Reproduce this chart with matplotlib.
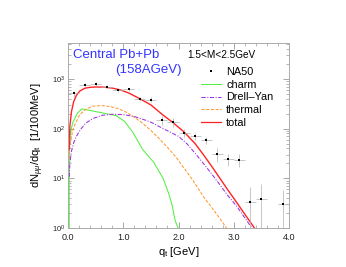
import numpy as np
import matplotlib
matplotlib.use('Agg')
import matplotlib.pyplot as plt
from matplotlib.lines import Line2D
from matplotlib.ticker import MultipleLocator, LogLocator, FixedLocator

plt.rcParams['font.family'] = ['Liberation Sans', 'DejaVu Sans']
plt.rcParams['mathtext.fontset'] = 'custom'
plt.rcParams['mathtext.rm'] = 'Liberation Sans'
plt.rcParams['mathtext.it'] = 'Liberation Sans:italic'

# NA50 data
na50_q = [0.1, 0.3, 0.5, 0.7, 0.9, 1.1, 1.3, 1.5, 1.7, 1.9,
          2.1, 2.3, 2.5, 2.7, 2.9, 3.1, 3.3, 3.5, 3.9]
na50_y = [510, 760, 790, 700, 590, 615, 400, 385, 147, 136,
          82, 70, 58, 31, 24.5, 23.7, 3.35, 3.8, 3.0]
na50_err = [75, 60, 60, 55, 50, 50, 40, 40, 30, 28,
            15, 12, 10, 10, 7, 7, 3.3, 3.8, 2.8]

# model curves
total_q = [0.02, 0.03, 0.06, 0.1, 0.15, 0.21, 0.3, 0.4, 0.5, 0.64, 0.8, 0.95,
           1.1, 1.3, 1.5, 1.7, 1.9, 2.1, 2.3, 2.45, 2.6, 2.75, 2.9, 3.06,
           3.2, 3.36, 3.42]
total_y = [38, 111, 220, 350, 470, 570, 650, 680, 690, 685, 655, 600,
           520, 400, 300, 195, 132, 86, 50, 30, 17.5, 10, 5.7, 3.2,
           1.9, 1.06, 0.85]

thermal_q = [0.02, 0.03, 0.08, 0.12, 0.21, 0.33, 0.45, 0.6, 0.75, 0.9, 1.05,
             1.2, 1.35, 1.5, 1.65, 1.8, 1.95, 2.1, 2.25, 2.45, 2.6, 2.75,
             2.87, 2.92]
thermal_y = [25, 44, 90, 120, 192, 250, 283, 292, 280, 255, 215,
             170, 128, 92, 63, 42, 27, 16, 9.5, 4.3, 2.6, 1.55,
             1.0, 0.85]

dy_q = [0.02, 0.03, 0.06, 0.1, 0.15, 0.22, 0.32, 0.45, 0.62, 0.8, 1.0,
        1.2, 1.35, 1.5, 1.7, 1.85, 2.0, 2.15, 2.3, 2.45, 2.6, 2.75, 2.9,
        3.06, 3.2, 3.33, 3.38]
dy_y = [10.7, 20, 35, 52, 70, 95, 130, 160, 186, 195, 192,
        175, 155, 135, 103, 85, 70, 50, 32, 20, 12.3, 7.4, 4.4,
        2.7, 1.6, 1.0, 0.85]

charm_q = [0.02, 0.02, 0.04, 0.08, 0.17, 0.25, 0.56, 0.87, 1.02, 1.17,
           1.35, 1.55, 1.72, 1.82, 1.88, 1.94, 2.0, 2.02]
charm_y = [0.8, 45, 80, 130, 207, 250, 214, 183, 141, 85,
           38, 21, 10, 5, 3, 1.4, 0.95, 0.85]

fig = plt.figure(figsize=(3.46, 2.67), dpi=100)
ax = fig.add_axes([0.197, 0.146, 0.638, 0.693])

c_total = '#ff2424'
c_thermal = '#ff9933'
c_dy = '#9933dd'
c_charm = '#55ee44'

ax.plot(charm_q, charm_y, color=c_charm, lw=0.75)
ax.plot(thermal_q, thermal_y, color=c_thermal, lw=0.75, ls=(0, (3, 1.5)))
ax.plot(dy_q, dy_y, color=c_dy, lw=0.75, ls=(0, (4, 1.5, 1, 1.5)))
ax.plot(total_q, total_y, color=c_total, lw=1.0)

ax.errorbar(na50_q, na50_y, yerr=na50_err, xerr=0.1, fmt='s', ms=1.9, mew=0,
            color='black', ecolor='#b0b0b0', elinewidth=0.5, capsize=0)

ax.set_yscale('log')
ax.set_xlim(0, 4)
ax.set_ylim(1, 5300)

ax.xaxis.set_major_locator(FixedLocator([0, 1, 2, 3, 4]))
ax.xaxis.set_minor_locator(MultipleLocator(0.2))
ax.set_xticklabels(['%.1f' % v for v in [0, 1, 2, 3, 4]])
ax.yaxis.set_major_locator(LogLocator(base=10, numticks=10))
ax.yaxis.set_minor_locator(LogLocator(base=10, subs=np.arange(2, 10), numticks=20))

ax.tick_params(which='both', direction='in', top=True, right=True,
               color='#999999', labelsize=6.5, labelcolor='#222222')
ax.tick_params(which='major', length=4, width=0.6)
ax.tick_params(which='minor', length=2, width=0.5)
ax.tick_params(axis='y', which='major', labelsize=5.5, pad=2)
for s in ax.spines.values():
    s.set_color('#aaaaaa')
    s.set_linewidth(0.7)

ax.set_xlabel(r'q$_{\rm t}$ [GeV]', fontsize=8, labelpad=2)
ax.set_ylabel(r'dN$_{\mu\mu}$/dq$_{\rm t}$  [1/100MeV]', fontsize=8, labelpad=4)

ax.text(0.02, 0.92, 'Central Pb+Pb', transform=ax.transAxes, color='#3333ff',
        fontsize=9.5)
ax.text(0.215, 0.84, '(158AGeV)', transform=ax.transAxes, color='#3333ff',
        fontsize=9.5)
ax.text(0.54, 0.92, '1.5<M<2.5GeV', transform=ax.transAxes, fontsize=7.2)

handles = [
    Line2D([], [], ls='none', marker='s', ms=1.6, mew=0, color='black'),
    Line2D([], [], color=c_charm, lw=0.75),
    Line2D([], [], color=c_dy, lw=0.75, ls=(0, (4, 1.5, 1, 1.5))),
    Line2D([], [], color=c_thermal, lw=0.75, ls=(0, (3, 1.5))),
    Line2D([], [], color=c_total, lw=0.9),
]
labels = ['NA50', 'charm', 'Drell\u2013Yan', 'thermal', 'total']
ax.legend(handles, labels, loc='upper left', bbox_to_anchor=(0.6, 0.87),
          frameon=False, fontsize=7.8, handlelength=1.9, handletextpad=0.45,
          labelspacing=0.25, borderaxespad=0, borderpad=0)

fig.savefig('out.png', dpi=100)
